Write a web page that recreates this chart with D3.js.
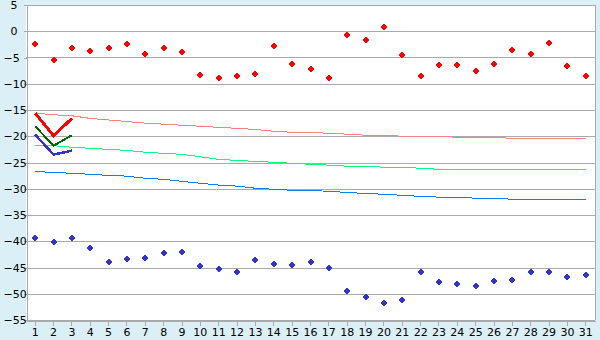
<!DOCTYPE html>
<html>
<head>
<meta charset="utf-8">
<script src="https://cdn.jsdelivr.net/npm/d3@7"></script>
<style>
  body { margin: 0; background: #daf0f6; }
  svg { display: block; font-family: "DejaVu Sans", Verdana, sans-serif; font-size: 11px; }
</style>
</head>
<body>
<div class="chart"></div>
<script>
// Categories along the bottom
let days = d3.range(1, 32);
let yTicks = [5, 0, -5, -10, -15, -20, -25, -30, -35, -40, -45, -50, -55];

// Scatter series (one point per day)
let redPoints = [-2.5, -5.5, -3.25, -3.7, -3.1, -2.5, -4.4, -3.25, -4.0, -8.4,
  -9.0, -8.6, -8.2, -2.9, -6.3, -7.1, -9.0, -0.8, -1.7, 0.9,
  -4.6, -8.6, -6.5, -6.5, -7.6, -6.3, -3.6, -4.4, -2.3, -6.7, -8.6];
let bluePoints = [-39.4, -40.2, -39.4, -41.2, -44.0, -43.4, -43.25, -42.3, -42.1, -44.8,
  -45.35, -45.9, -43.6, -44.4, -44.6, -44.0, -45.15, -49.5, -50.7, -51.8,
  -51.25, -45.9, -47.8, -48.2, -48.6, -47.6, -47.4, -45.9, -45.9, -46.9, -46.5];

// Thin curves running the whole month
let pinkLine = [-15.6, -15.9, -16.1, -16.6, -16.9, -17.2, -17.5, -17.7, -17.9, -18.1,
  -18.3, -18.5, -18.7, -19.05, -19.25, -19.25, -19.45, -19.6, -19.8, -19.8,
  -20.0, -20.0, -20.0, -20.2, -20.2, -20.2, -20.4, -20.4, -20.4, -20.4, -20.4];
let greenLine = [-21.7, -21.8, -22.1, -22.3, -22.5, -22.7, -23.05, -23.25, -23.45, -23.9,
  -24.4, -24.6, -24.8, -24.95, -25.15, -25.35, -25.5, -25.7, -25.7, -25.9,
  -25.9, -26.1, -26.3, -26.3, -26.3, -26.3, -26.3, -26.3, -26.3, -26.3, -26.3];
let blueLine = [-26.7, -26.9, -27.05, -27.25, -27.45, -27.6, -28.0, -28.2, -28.6, -28.95,
  -29.3, -29.5, -29.9, -30.1, -30.3, -30.3, -30.5, -30.7, -30.9, -31.05,
  -31.25, -31.45, -31.6, -31.6, -31.8, -31.8, -32.0, -32.0, -32.0, -32.0, -32.0];

// Short thick lines over the first three days
let redV = [-15.6, -19.9, -16.6];
let darkGreenV = [-18.1, -21.8, -19.8];
let indigoV = [-19.7, -23.5, -22.75];

let width = 600;
let height = 340;
let plot = { left: 26, right: 595, top: 5, bottom: 320 };

let svg = d3.select(".chart")
  .append("svg")
  .attr("width", width)
  .attr("height", height);

// light blue outside, white plotting area
svg.append("rect")
  .attr("width", width).attr("height", height)
  .attr("fill", "#daf0f6");
svg.append("rect")
  .attr("x", plot.left).attr("y", plot.top)
  .attr("width", plot.right - plot.left).attr("height", plot.bottom - plot.top)
  .attr("fill", "#ffffff");

let x = d3.scaleBand()
  .domain(days)
  .range([plot.left, plot.right]);
let cx = d => x(d) + x.bandwidth() / 2;

let y = d3.scaleLinear()
  .domain([-55, 5])
  .range([plot.bottom, plot.top]);

// horizontal gridlines
svg.append("g")
  .selectAll("line")
  .data(yTicks)
  .enter().append("line")
    .attr("x1", plot.left).attr("x2", plot.right)
    .attr("y1", d => Math.round(y(d)) + 0.5)
    .attr("y2", d => Math.round(y(d)) + 0.5)
    .attr("stroke", "#aaaaaa")
    .attr("shape-rendering", "crispEdges");

// right border
svg.append("line")
  .attr("x1", plot.right + 0.5).attr("x2", plot.right + 0.5)
  .attr("y1", plot.top).attr("y2", plot.bottom)
  .attr("stroke", "#aaaaaa")
  .attr("shape-rendering", "crispEdges");

// y axis
let yAxis = svg.append("g")
  .attr("transform", "translate(" + (plot.left + 0.5) + ",0)")
  .call(d3.axisLeft(y).tickValues(yTicks).tickSize(3).tickSizeOuter(0)
    .tickFormat(d => d < 0 ? "\u2212" + Math.abs(d) : d));
yAxis.selectAll("path, line").attr("stroke", "#aaaaaa").attr("shape-rendering", "crispEdges");
yAxis.selectAll("text")
  .attr("text-anchor", "start")
  .attr("x", d => d < 0 ? -23 : -16)
  .attr("fill", "#000")
  .style("font-size", "11px")
  .style("font-family", "DejaVu Sans, Verdana, sans-serif");

// x axis
let xAxis = svg.append("g")
  .attr("transform", "translate(0," + (plot.bottom + 0.5) + ")")
  .call(d3.axisBottom(x).tickSize(5).tickSizeOuter(0));
xAxis.selectAll("path, line").attr("stroke", "#aaaaaa").attr("shape-rendering", "crispEdges");
xAxis.selectAll("text")
  .attr("y", 8)
  .attr("fill", "#000")
  .style("font-size", "11px")
  .style("font-family", "DejaVu Sans, Verdana, sans-serif");

let line = d3.line()
  .x((d, i) => cx(days[i]))
  .y(d => y(d));

// thin trend curves
let curves = [
  { values: pinkLine, color: "#ff8080" },
  { values: greenLine, color: "#00ff80" },
  { values: blueLine, color: "#0080ff" }
];
curves.forEach(c => {
  svg.append("path")
    .datum(c.values)
    .attr("d", line)
    .attr("fill", "none")
    .attr("stroke", c.color)
    .attr("stroke-width", 1)
    .attr("shape-rendering", "crispEdges");
});

// thick V lines
let vees = [
  { values: indigoV, color: "#3333cc", w: 2.5 },
  { values: darkGreenV, color: "#006600", w: 2 },
  { values: redV, color: "#ff0000", w: 3 }
];
vees.forEach(c => {
  svg.append("path")
    .datum(c.values)
    .attr("d", line)
    .attr("fill", "none")
    .attr("stroke", c.color)
    .attr("stroke-width", c.w)
    .attr("shape-rendering", "crispEdges");
});

// small blocky diamond marker, drawn in whole pixels
let marker = {
  draw(ctx, size) {
    ctx.moveTo(-1, -3);
    ctx.lineTo(1, -3); ctx.lineTo(1, -2); ctx.lineTo(2, -2); ctx.lineTo(2, -1);
    ctx.lineTo(3, -1); ctx.lineTo(3, 1); ctx.lineTo(2, 1); ctx.lineTo(2, 2);
    ctx.lineTo(1, 2); ctx.lineTo(1, 3); ctx.lineTo(-1, 3); ctx.lineTo(-1, 2);
    ctx.lineTo(-2, 2); ctx.lineTo(-2, 1); ctx.lineTo(-3, 1); ctx.lineTo(-3, -1);
    ctx.lineTo(-2, -1); ctx.lineTo(-2, -2); ctx.lineTo(-1, -2);
    ctx.closePath();
  }
};
let sym = d3.symbol().type(marker);

let pointSets = [
  { values: redPoints, color: "#ff0000" },
  { values: bluePoints, color: "#3333cc" }
];
pointSets.forEach(s => {
  svg.append("g")
    .selectAll("path")
    .data(s.values)
    .enter().append("path")
      .attr("d", sym)
      .attr("transform", (d, i) => "translate(" + Math.round(cx(days[i])) + "," + Math.round(y(d)) + ")")
      .attr("fill", s.color)
      .attr("shape-rendering", "crispEdges");
});
</script>
</body>
</html>
